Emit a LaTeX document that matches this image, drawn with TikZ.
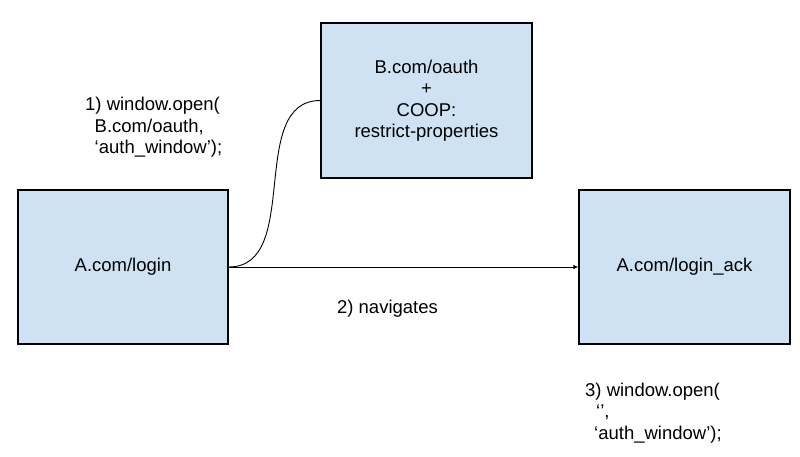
\documentclass[tikz,border=0pt]{standalone}
\usepackage{fontspec}
\setmainfont{Liberation Sans}
\usepackage{xcolor}
\usetikzlibrary{arrows.meta,positioning}
\definecolor{pagefill}{HTML}{CFE2F3}
\tikzset{%
	page/.style  = {draw, line width=1.3pt, fill=pagefill, rectangle, minimum width=210pt, minimum height=154pt, text centered, align=center, inner sep=0pt},
	note/.style  = {align=left, inner sep=0pt},
	opener/.style = {line width=0.9pt},
	arrow/.style = {line width=0.9pt,-{Latex[length=5pt,width=4.5pt]}},
}
\newcommand{\us}{\_}

\begin{document}
\begin{tikzpicture}[x=1pt,y=-1pt,font=\fontsize{18.5}{21.5}\selectfont]
	\useasboundingbox (0,0) rectangle (800,457);
	
	\node[page] (login) at (123,267) {A.com/login};
	\node[page, minimum width=211pt, minimum height=155pt] (oauth) at (426.5,100.5) {B.com/oauth\\+\\COOP:\\restrict-properties};
	\node[page, minimum width=211pt] (ack) at (684.5,267) {A.com/login\us ack};
	
	% base anchor sits on the last line
	\node[note, anchor=base west] (step1) at (85,154) {1) window.open(\\\hspace*{9.5pt}B.com/oauth,\\\hspace*{9.5pt}‘auth\us window’);};
	\node[note] (step2) at (387.5,309) {2) navigates};
	\node[note, anchor=base west] (step3) at (585,439) {3) window.open(\\\hspace*{11pt}‘’,\\\hspace*{9pt}‘auth\us window’);};
	
	\draw[opener] (login.east) to[out=0,in=180] (oauth.west);
	\draw[arrow] (login.east) -- (ack.west);
\end{tikzpicture}
\end{document}
